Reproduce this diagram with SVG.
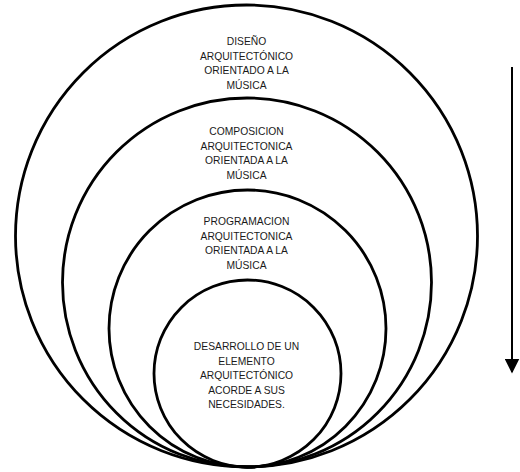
<svg xmlns="http://www.w3.org/2000/svg" width="520" height="472" viewBox="0 0 520 472">
<defs>
<style>
.ring{fill:none;stroke:#000;stroke-width:2.8}
.lbl{font-family:"Liberation Sans",Arial,sans-serif;font-size:10.3px;fill:#1a1a1a;text-anchor:middle}
</style>
<marker id="ah" viewBox="0 0 10 10" refX="9" refY="5" markerWidth="7.5" markerHeight="7.5" orient="auto" markerUnits="strokeWidth">
<path d="M0,0 L10,5 L0,10 Z" fill="#000"/>
</marker>
</defs>
<rect width="520" height="472" fill="#fff"/>
<g id="n1">
<circle class="ring" cx="246.5" cy="236" r="231"/>
<text class="lbl"><tspan x="246.5" y="45">DISEÑO</tspan><tspan x="246.5" y="59.5">ARQUITECTÓNICO</tspan><tspan x="246.5" y="74">ORIENTADO A LA</tspan><tspan x="246.5" y="88.5">MÚSICA</tspan></text>
</g>
<g id="n2">
<circle class="ring" cx="247" cy="282.5" r="184.5"/>
<text class="lbl"><tspan x="246.5" y="135">COMPOSICION</tspan><tspan x="246.5" y="149.5">ARQUITECTONICA</tspan><tspan x="246.5" y="164">ORIENTADA A LA</tspan><tspan x="246.5" y="178.5">MÚSICA</tspan></text>
</g>
<g id="n3">
<circle class="ring" cx="247.5" cy="328.5" r="138.5"/>
<text class="lbl"><tspan x="246.5" y="225">PROGRAMACION</tspan><tspan x="246.5" y="239.5">ARQUITECTONICA</tspan><tspan x="246.5" y="254">ORIENTADA A LA</tspan><tspan x="246.5" y="268.5">MÚSICA</tspan></text>
</g>
<g id="n4">
<circle class="ring" cx="247.5" cy="373.5" r="93.5"/>
<text class="lbl"><tspan x="246.5" y="350">DESARROLLO DE UN</tspan><tspan x="246.5" y="364.5">ELEMENTO</tspan><tspan x="246.5" y="379">ARQUITECTÓNICO</tspan><tspan x="246.5" y="393.5">ACORDE A SUS</tspan><tspan x="246.5" y="408">NECESIDADES.</tspan></text>
</g>
<g id="connectors">
<line x1="512" y1="67" x2="512" y2="372" stroke="#000" stroke-width="2" marker-end="url(#ah)"/>
</g>
</svg>
